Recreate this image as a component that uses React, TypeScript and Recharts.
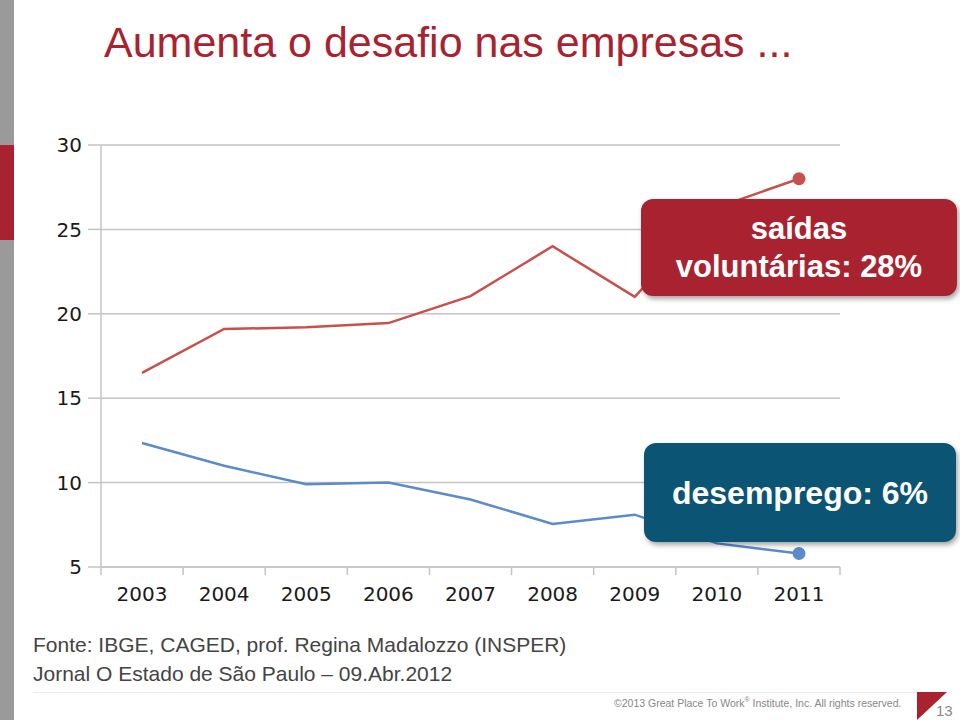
import React from 'react';
import { LineChart, Line, XAxis, YAxis, CartesianGrid } from 'recharts';

// values
const years = ['2003', '2004', '2005', '2006', '2007', '2008', '2009', '2010', '2011'];
const saidasVoluntarias = [16.5, 19.1, 19.2, 19.45, 21.05, 24.0, 21.0, 26.3, 28.0];
const desemprego = [12.35, 11.0, 9.9, 10.0, 9.0, 7.55, 8.1, 6.4, 5.8];
const yTicks = [5, 10, 15, 20, 25, 30];
const edgeTicks = [0, 1, 2, 3, 4, 5, 6, 7, 8, 9];

const data = years.map((year, i) => ({
    year,
    idx: i,
    saidas: saidasVoluntarias[i],
    desemprego: desemprego[i],
}));

const RED = '#c8504c';
const BLUE = '#5b8bc9';
const AXIS = '#c4c4c4';
const TICK_FONT = { fontSize: 20, fill: '#1a1a1a', fontFamily: '"DejaVu Sans", Arial, sans-serif' };

// only the last point gets a dot
const lastDot = (color: string) => (props: any) => {
    const { cx, cy, index } = props;
    if (index !== data.length - 1) return <g key={`d-${index}`} />;
    return <circle key={`d-${index}`} cx={cx} cy={cy} r={6.5} fill={color} stroke="none" />;
};

const noLabel = () => <g />;

const boxStyle: React.CSSProperties = {
    position: 'absolute',
    borderRadius: 12,
    color: '#fff',
    fontFamily: '"Liberation Sans", Arial, sans-serif',
    fontWeight: 'bold',
    fontSize: 31,
    textAlign: 'center',
    boxShadow: '2px 3px 5px rgba(0,0,0,0.35)',
    display: 'flex',
    flexDirection: 'column',
    justifyContent: 'center',
    lineHeight: '38px',
};

export default function App() {
    return (
        <div style={{ position: 'absolute', left: 0, top: 0, width: 960, height: 720, background: '#fff', overflow: 'hidden', fontFamily: '"Liberation Sans", Arial, sans-serif' }}>
            {/* left edge strip */}
            <div style={{ position: 'absolute', left: 0, top: 0, width: 14, height: 720, background: '#9a9a9a' }} />
            <div style={{ position: 'absolute', left: 0, top: 145, width: 14, height: 95, background: '#a8232f' }} />

            <div style={{ position: 'absolute', left: 104, top: 18, fontSize: 43, color: '#a8232f', whiteSpace: 'nowrap' }}>
                Aumenta o desafio nas empresas ...
            </div>

            <div style={{ position: 'absolute', left: 0, top: 0 }}>
                <LineChart width={960} height={720} data={data} margin={{ top: 145, right: 120, left: 41, bottom: 112 }}>
                    <CartesianGrid xAxisId="axisB" vertical={false} stroke={AXIS} strokeWidth={1.5} />
                    {/* tick marks sit between the years */}
                    <XAxis
                        xAxisId="axisA"
                        dataKey="idx"
                        type="number"
                        domain={[0, 9]}
                        ticks={edgeTicks}
                        allowDataOverflow
                        height={1}
                        tick={noLabel}
                        tickSize={8}
                        tickLine={{ stroke: AXIS, strokeWidth: 1.5 }}
                        axisLine={{ stroke: AXIS, strokeWidth: 1.5 }}
                    />
                    <XAxis
                        xAxisId="axisB"
                        dataKey="year"
                        height={40}
                        padding={{ left: 41, right: 41 }}
                        tickLine={false}
                        axisLine={false}
                        tickSize={0}
                        tickMargin={19}
                        interval={0}
                        tick={TICK_FONT}
                    />
                    <YAxis
                        width={60}
                        domain={[5, 30]}
                        ticks={yTicks}
                        tickSize={13}
                        tickMargin={6}
                        tick={TICK_FONT}
                        tickLine={{ stroke: AXIS, strokeWidth: 1.5 }}
                        axisLine={{ stroke: AXIS, strokeWidth: 1.5 }}
                    />
                    <Line
                        xAxisId="axisB"
                        type="linear"
                        dataKey="saidas"
                        stroke={RED}
                        strokeWidth={2.5}
                        dot={lastDot(RED)}
                        activeDot={false}
                        isAnimationActive={false}
                    />
                    <Line
                        xAxisId="axisB"
                        type="linear"
                        dataKey="desemprego"
                        stroke={BLUE}
                        strokeWidth={2.5}
                        dot={lastDot(BLUE)}
                        activeDot={false}
                        isAnimationActive={false}
                    />
                </LineChart>
            </div>

            {/* callouts */}
            <div style={{ ...boxStyle, left: 641, top: 199, width: 316, height: 97, background: '#a8232f' }}>
                <div>saídas</div>
                <div>voluntárias: 28%</div>
            </div>
            <div style={{ ...boxStyle, left: 644, top: 443, width: 312, height: 99, background: '#0b5474', fontSize: 32 }}>
                <div>desemprego: 6%</div>
            </div>

            {/* source */}
            <div style={{ position: 'absolute', left: 33, top: 630, fontSize: 21, color: '#444', lineHeight: '29px', whiteSpace: 'nowrap' }}>
                <div>Fonte: IBGE, CAGED, prof. Regina Madalozzo (INSPER)</div>
                <div>Jornal O Estado de São Paulo – 09.Abr.2012</div>
            </div>
            <div style={{ position: 'absolute', left: 33, top: 692, width: 884, height: 1, background: '#ececec' }} />

            {/* footer */}
            <div style={{ position: 'absolute', left: 614, top: 696, fontSize: 10.5, color: '#888', whiteSpace: 'nowrap' }}>
                ©2013 Great Place To Work<sup style={{ fontSize: 7 }}>®</sup> Institute, Inc. All rights reserved.
            </div>
            <svg style={{ position: 'absolute', left: 917, top: 692 }} width={30} height={28}>
                <polygon points="0,0 30,0 0,28" fill="#a8232f" />
            </svg>
            <div style={{ position: 'absolute', left: 936, top: 702, fontSize: 15, color: '#888' }}>13</div>
        </div>
    );
}
